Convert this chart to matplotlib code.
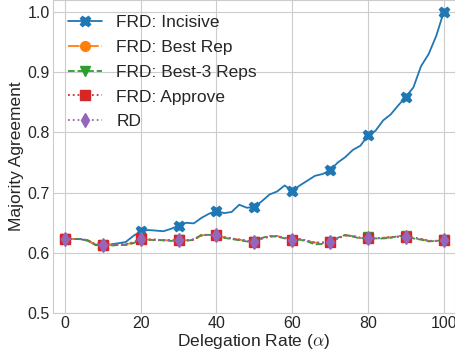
import matplotlib
matplotlib.use("Agg")
import matplotlib.pyplot as plt
import seaborn as sns

sns.set_style("whitegrid")
plt.rcParams['font.family'] = ['Liberation Sans', 'DejaVu Sans']
plt.rcParams['mathtext.fontset'] = 'cm'

x = list(range(0, 101, 2))

incisive = [0.623, 0.623, 0.623, 0.620, 0.614, 0.613, 0.614, 0.616, 0.618, 0.628,
            0.636, 0.638, 0.637, 0.636, 0.640, 0.645, 0.650, 0.649, 0.658, 0.665,
            0.670, 0.666, 0.668, 0.680, 0.675, 0.676, 0.686, 0.697, 0.702, 0.712,
            0.703, 0.712, 0.720, 0.728, 0.731, 0.737, 0.750, 0.759, 0.771, 0.778,
            0.795, 0.803, 0.820, 0.830, 0.845, 0.859, 0.875, 0.910, 0.930, 0.960,
            1.000]

best_rep = [0.623, 0.623, 0.623, 0.621, 0.614, 0.613, 0.613, 0.614, 0.614, 0.617,
            0.623, 0.622, 0.622, 0.621, 0.621, 0.621, 0.621, 0.622, 0.629, 0.630,
            0.629, 0.626, 0.624, 0.622, 0.620, 0.618, 0.624, 0.627, 0.628, 0.625,
            0.621, 0.623, 0.620, 0.617, 0.617, 0.618, 0.624, 0.629, 0.628, 0.625,
            0.625, 0.624, 0.625, 0.626, 0.627, 0.627, 0.625, 0.623, 0.620, 0.620,
            0.621]

best_3 = [0.623, 0.623, 0.623, 0.621, 0.613, 0.612, 0.612, 0.613, 0.613, 0.616,
          0.622, 0.622, 0.621, 0.621, 0.620, 0.621, 0.620, 0.622, 0.630, 0.630,
          0.628, 0.625, 0.623, 0.621, 0.619, 0.618, 0.625, 0.628, 0.627, 0.624,
          0.620, 0.622, 0.619, 0.614, 0.615, 0.618, 0.625, 0.630, 0.627, 0.624,
          0.626, 0.624, 0.624, 0.625, 0.628, 0.628, 0.624, 0.622, 0.619, 0.620,
          0.621]

approve = [0.623, 0.623, 0.623, 0.621, 0.614, 0.613, 0.613, 0.614, 0.615, 0.617,
           0.623, 0.622, 0.622, 0.621, 0.621, 0.621, 0.621, 0.622, 0.629, 0.630,
           0.629, 0.626, 0.624, 0.622, 0.620, 0.618, 0.624, 0.627, 0.628, 0.625,
           0.621, 0.623, 0.620, 0.617, 0.617, 0.618, 0.624, 0.629, 0.628, 0.625,
           0.625, 0.624, 0.625, 0.626, 0.627, 0.627, 0.625, 0.623, 0.620, 0.620,
           0.621]

rd = [0.623, 0.623, 0.623, 0.621, 0.614, 0.613, 0.613, 0.614, 0.614, 0.618,
      0.623, 0.622, 0.622, 0.621, 0.621, 0.621, 0.621, 0.623, 0.629, 0.630,
      0.629, 0.626, 0.624, 0.622, 0.620, 0.618, 0.624, 0.627, 0.628, 0.625,
      0.621, 0.623, 0.620, 0.617, 0.617, 0.618, 0.624, 0.629, 0.628, 0.625,
      0.625, 0.624, 0.625, 0.626, 0.627, 0.627, 0.625, 0.623, 0.620, 0.620,
      0.621]

fig = plt.figure(figsize=(4.56, 3.53), dpi=100)
ax = fig.add_axes([0.116, 0.113, 0.882, 0.887])

ax.plot(x, incisive, '-', marker='X', markevery=5, ms=7.5, lw=1.3, color='#1f77b4', label='FRD: Incisive')
ax.plot(x, best_rep, '-.', marker='o', markevery=5, ms=7, lw=1.3, color='#ff7f0e', label='FRD: Best Rep')
ax.plot(x, best_3, '--', marker='v', markevery=5, ms=7, lw=1.3, color='#2ca02c', label='FRD: Best-3 Reps')
ax.plot(x, approve, ':', marker='s', markevery=5, ms=7, lw=1.3, color='#d62728', label='FRD: Approve')
ax.plot(x, rd, ':', marker='d', markevery=5, ms=7, lw=1.3, color='#9467bd', label='RD')

ax.set_xlim(-3.2, 103)
ax.set_ylim(0.5, 1.02)
ax.set_xticks([0, 20, 40, 60, 80, 100])
ax.set_yticks([0.5, 0.6, 0.7, 0.8, 0.9, 1.0])
ax.tick_params(labelsize=11.5, length=0, pad=2)
ax.set_xlabel(r'Delegation Rate ($\alpha$)', fontsize=12.5, labelpad=1)
ax.set_ylabel('Majority Agreement', fontsize=12.5, labelpad=3)
ax.legend(loc='upper left', fontsize=12.5, frameon=False, borderaxespad=0.45,
          labelspacing=0.56)

fig.savefig('out.png', dpi=100)
